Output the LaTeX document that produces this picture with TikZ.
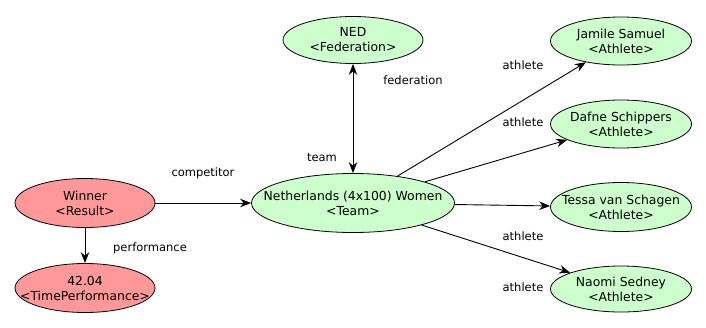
\documentclass[tikz,border=0pt]{standalone}
\usepackage{fontspec}
\setmainfont{DejaVu Sans}
\usetikzlibrary{shapes.geometric,arrows.meta}
\definecolor{redfill}{HTML}{FF9999}
\definecolor{greenfill}{HTML}{CCFFCC}
\tikzset{
  ent/.style={ellipse, draw=black, line width=0.8pt, inner sep=0pt},
  enttext/.style={align=center, inner sep=0pt, font=\fontsize{12.4}{15}\selectfont},
  rednode/.style={ent, fill=redfill},
  greennode/.style={ent, fill=greenfill},
  rel/.style={line width=0.9pt, -{Stealth[length=11pt,width=8.5pt]}},
  lbl/.style={font=\fontsize{11.5}{14}\selectfont, inner sep=0pt}
}
\begin{document}
\begin{tikzpicture}[x=1pt,y=-1pt]
\useasboundingbox (0,0) rectangle (706,327);
\node[greennode, minimum width=140pt, minimum height=47pt, label={[enttext]center:NED\\<Federation>}] (ned) at (353,40) {};
\node[greennode, minimum width=203pt, minimum height=59pt, label={[enttext]center:Netherlands (4x100) Women\\<Team>}] (nl) at (353,203) {};
\node[rednode, minimum width=140pt, minimum height=49pt, label={[enttext]center:Winner\\<Result>}] (win) at (85,203) {};
\node[rednode, minimum width=140pt, minimum height=49pt, label={[enttext]center:42.04\\<TimePerformance>}] (perf) at (85,288) {};
\node[greennode, minimum width=141pt, minimum height=48pt, label={[enttext]center:Jamile Samuel\\<Athlete>}] (jam) at (621,41) {};
\node[greennode, minimum width=141pt, minimum height=48pt, label={[enttext]center:Dafne Schippers\\<Athlete>}] (daf) at (621,124) {};
\node[greennode, minimum width=141pt, minimum height=49pt, label={[enttext]center:Tessa van Schagen\\<Athlete>}] (tes) at (621,207) {};
\node[greennode, minimum width=141pt, minimum height=46pt, label={[enttext]center:Naomi Sedney\\<Athlete>}] (nao) at (621,289) {};

\draw[rel] (win) -- (nl);
\draw[rel] (win) -- (perf);
\draw[rel, {Stealth[length=11pt,width=8.5pt]}-{Stealth[length=11pt,width=8.5pt]}] (ned) -- (nl);
\draw[rel] (nl) -- (jam);
\draw[rel] (nl) -- (daf);
\draw[rel] (nl) -- (tes);
\draw[rel] (nl) -- (nao);

\node[lbl] (lcomp) at (203,173) {competitor};
\node[lbl] (lperf) at (150,248) {performance};
\node[lbl] (lfed) at (413,80) {federation};
\node[lbl] (lteam) at (322,158) {team};
\node[lbl] (la1) at (523,65) {athlete};
\node[lbl] (la2) at (523,122) {athlete};
\node[lbl] (la3) at (523,236) {athlete};
\node[lbl] (la4) at (523,287) {athlete};
\end{tikzpicture}
\end{document}
